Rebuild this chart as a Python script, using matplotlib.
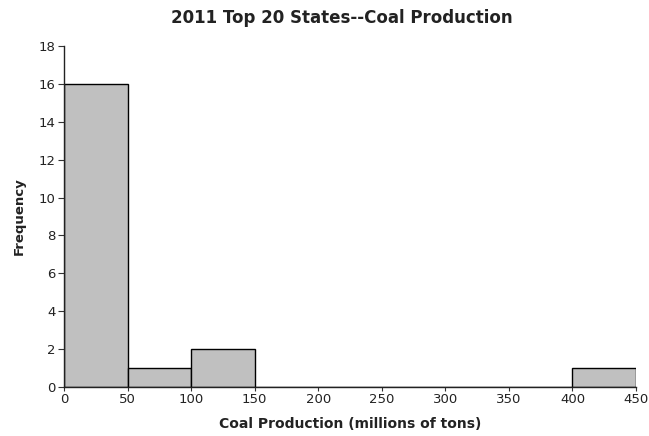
import matplotlib.pyplot as plt

# === Datos ===
bordes = [0, 50, 100, 150, 200, 250, 300, 350, 400, 450]
frecuencias = [16, 1, 2, 0, 0, 0, 0, 0, 1]
ticks_x = [0, 50, 100, 150, 200, 250, 300, 350, 400, 450]
ticks_y = [0, 2, 4, 6, 8, 10, 12, 14, 16, 18]

plt.rcParams['font.family'] = ['DejaVu Sans']

fig = plt.figure(figsize=(6.49, 4.36), dpi=100)
ax = fig.add_axes([0.0986, 0.1124, 0.8814, 0.7821])

anchos = [bordes[i+1] - bordes[i] for i in range(len(frecuencias))]
ax.bar(bordes[:-1], frecuencias, width=anchos, align='edge',
       color='#c0c0c0', edgecolor='black', linewidth=1.0)

ax.set_xlim(0, 450)
ax.set_ylim(0, 18)
ax.set_xticks(ticks_x)
ax.set_yticks(ticks_y)
ax.tick_params(direction='out', width=0.8, labelsize=9.5, colors='#333333',
               labelcolor='#222222')
ax.tick_params(axis='x', length=3, pad=1.5)
ax.tick_params(axis='y', length=4, pad=2)

for s in ['top', 'right']:
    ax.spines[s].set_visible(False)
for s in ['left', 'bottom']:
    ax.spines[s].set_linewidth(1.0)
    ax.spines[s].set_color('#222222')

ax.set_title("2011 Top 20 States--Coal Production", fontsize=12, fontweight='bold',
             color='#222222', pad=16.5, x=0.485)
ax.set_xlabel("Coal Production (millions of tons)", fontsize=10, fontweight='bold',
              color='#222222', labelpad=7.5)
ax.set_ylabel("Frequency", fontsize=9.5, fontweight='bold', color='#222222', labelpad=9)

fig.savefig("out.png", dpi=100)
